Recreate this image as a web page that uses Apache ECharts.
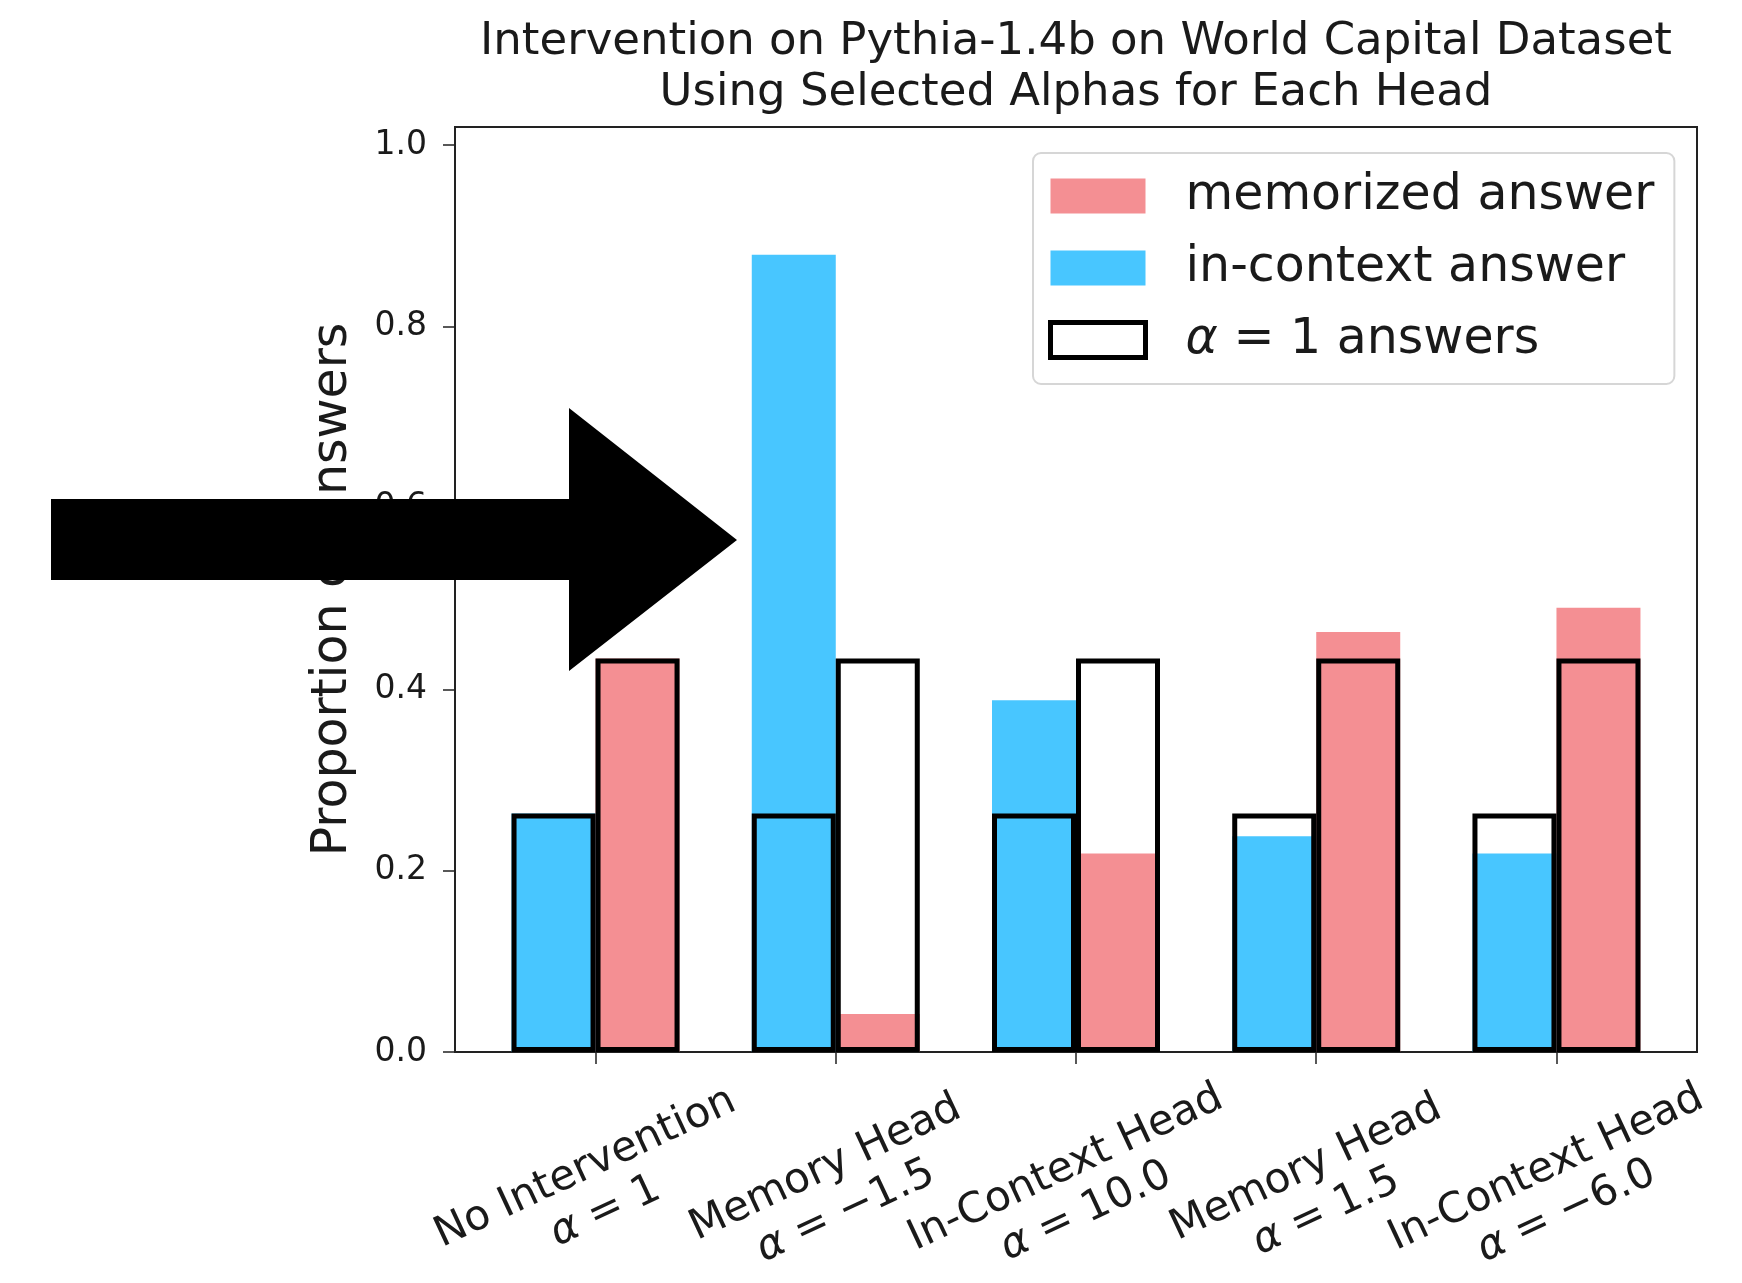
<!DOCTYPE html>
<html><head><meta charset="utf-8">
<script src="https://cdn.jsdelivr.net/npm/echarts@6/dist/echarts.min.js"></script>
<style>html,body{margin:0;padding:0;background:#fff}#c{width:1742px;height:1283px}</style>
</head><body><div id="c"></div>
<script>
const categories = ['No Intervention', 'Memory Head', 'In-Context Head', 'Memory Head', 'In-Context Head'];
const alphaLabels = ['1', '\u22121.5', '10.0', '1.5', '\u22126.0'];
const inContext = [0.263, 0.879, 0.388, 0.238, 0.219];
const memorized = [0.434, 0.042, 0.219, 0.463, 0.490];
const alphaOneInContext = [0.263, 0.263, 0.263, 0.263, 0.263];
const alphaOneMemorized = [0.434, 0.434, 0.434, 0.434, 0.434];
const yTicks = [0, 0.2, 0.4, 0.6, 0.8, 1.0];
const xTicks = [0, 1, 2, 3, 4];

const RED = '#F48F93';
const BLUE = '#48C6FF';
const FONT = 'DejaVu Sans';
const TXT = '#1a1a1a';
const AX = '#222';

const chart = echarts.init(document.getElementById('c'), null, {renderer: 'canvas'});
const pts = arr => xTicks.map(i => [i, arr[i]]);
const xRange = {min: -0.585, max: 4.585};
const BW = 84;

chart.setOption({
  animation: false,
  backgroundColor: '#fff',
  title: {
    text: 'Intervention on Pythia-1.4b on World Capital Dataset\nUsing Selected Alphas for Each Head',
    left: 1076, top: 17, textAlign: 'center', padding: 0,
    textStyle: {fontSize: 45, fontWeight: 'normal', fontFamily: FONT, color: TXT, lineHeight: 51}
  },
  grid: {left: 455, top: 127, width: 1242, height: 925, show: true, borderColor: AX, borderWidth: 2,
         containLabel: false, outerBoundsMode: 'none'},
  xAxis: [{
    type: 'value', min: xRange.min, max: xRange.max, position: 'bottom',
    axisLine: {show: true, onZero: false, lineStyle: {color: AX, width: 2}},
    axisTick: {show: true, customValues: xTicks, interval: 0, length: 12, lineStyle: {color: AX, width: 1.5}},
    axisLabel: {
      customValues: xTicks, interval: 0, rotate: 25, align: 'center', verticalAlign: 'middle', margin: 138,
      showMinLabel: true, showMaxLabel: true, hideOverlap: false,
      fontSize: 42, fontFamily: FONT, color: TXT, lineHeight: 48,
      formatter: v => { const i = Math.round(v); return categories[i] + '\n{a|\u03b1} = ' + alphaLabels[i]; },
      rich: {a: {fontStyle: 'italic', fontSize: 42, fontFamily: FONT, color: TXT, lineHeight: 48}}
    },
    splitLine: {show: false}
  }, {
    type: 'value', min: xRange.min, max: xRange.max, show: false, splitLine: {show: false}
  }],
  yAxis: {
    type: 'value', min: 0, max: 1.02,
    axisLine: {show: true, onZero: false, lineStyle: {color: AX, width: 2}},
    axisTick: {show: true, customValues: yTicks, length: 12, lineStyle: {color: AX, width: 1.5}},
    axisLabel: {customValues: yTicks, formatter: v => v.toFixed(1), fontSize: 33, margin: 28, color: TXT, fontFamily: FONT,
      showMinLabel: true, showMaxLabel: true},
    splitLine: {show: false},
    name: 'Proportion of answers', nameLocation: 'middle', nameGap: 97, nameRotate: 90,
    nameTextStyle: {fontSize: 49, fontFamily: FONT, color: TXT}
  },
  legend: {
    orient: 'vertical', left: 1033, top: 153, selectedMode: false,
    data: [
      {name: 'memorized answer', itemStyle: {color: RED, borderWidth: 0}},
      {name: 'in-context answer', itemStyle: {color: BLUE, borderWidth: 0}},
      {name: '\u03b1 = 1 answers', itemStyle: {color: '#fff', borderColor: '#000', borderWidth: 5}}
    ],
    icon: 'rect', itemWidth: 95, itemHeight: 35, itemGap: 20,
    padding: [17, 20, 18, 15],
    backgroundColor: '#fff', borderColor: '#d6d6d6', borderWidth: 2, borderRadius: 8,
    textStyle: {fontSize: 49, fontFamily: FONT, color: TXT, lineHeight: 52, padding: [0, 0, 0, 35],
      rich: {a: {fontStyle: 'italic', fontSize: 49, fontFamily: FONT, color: TXT, lineHeight: 52}}},
    formatter: name => name === '\u03b1 = 1 answers' ? '{a|\u03b1} = 1 answers' : name
  },
  series: [
    {name: 'in-context answer', type: 'bar', xAxisIndex: 0, data: pts(inContext), barWidth: BW, barGap: '0%',
     itemStyle: {color: BLUE}, z: 2},
    {name: 'memorized answer', type: 'bar', xAxisIndex: 0, data: pts(memorized), barWidth: BW, barGap: '0%',
     itemStyle: {color: RED}, z: 2},
    {name: '\u03b1 = 1 answers', type: 'bar', xAxisIndex: 1, data: pts(alphaOneInContext), barWidth: BW, barGap: '0%',
     itemStyle: {color: 'rgba(0,0,0,0)', borderColor: '#000', borderWidth: 5}, z: 3},
    {name: '\u03b1 = 1 answers', type: 'bar', xAxisIndex: 1, data: pts(alphaOneMemorized), barWidth: BW, barGap: '0%',
     itemStyle: {color: 'rgba(0,0,0,0)', borderColor: '#000', borderWidth: 5}, z: 3}
  ],
  graphic: [{
    type: 'polygon', z: 100,
    shape: {points: [[51, 499], [569, 499], [569, 408], [737, 540], [569, 671], [569, 580], [51, 580]]},
    style: {fill: '#000'}
  }]
});
</script></body></html>
